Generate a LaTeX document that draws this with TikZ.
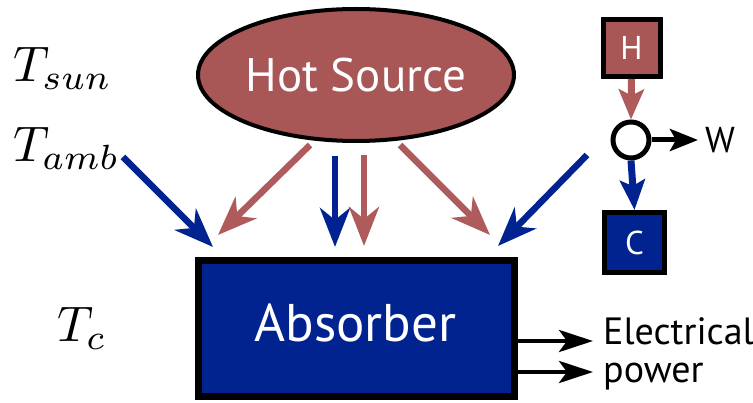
\documentclass[tikz,border=0pt]{standalone}
\usepackage{graphicx}
\usepackage{fontspec}
\newfontfamily\labelfont{PT Sans}
\usetikzlibrary{arrows.meta,shapes.geometric}
\definecolor{hotred}{RGB}{168,86,86}
\definecolor{arrowred}{RGB}{176,91,91}
\definecolor{absblue}{RGB}{0,35,143}
\definecolor{arrowblue}{RGB}{0,35,145}
\newcommand{\bigmath}[1]{\scalebox{5}{$#1$}}
\begin{document}
\begin{tikzpicture}[x=1pt,y=-1pt,
  bigred/.style={line width=6.5pt, draw=arrowred, -{Stealth[length=39pt,width=30pt,inset=12pt]}},
  bigblue/.style={line width=6.5pt, draw=arrowblue, -{Stealth[length=39pt,width=30pt,inset=12pt]}},
  smallred/.style={line width=7pt, draw=arrowred, -{Stealth[length=30pt,width=25pt,inset=6pt]}},
  smallblue/.style={line width=7pt, draw=arrowblue, -{Stealth[length=30pt,width=25pt,inset=6pt]}},
  blackarrow/.style={line width=4.5pt, draw=black, -{Stealth[length=34pt,width=22pt,inset=8pt]}},
  mathlabel/.style={anchor=base west, inner sep=0pt},
  sanslabel/.style={inner sep=0pt, font=\labelfont\fontsize{38}{44}\selectfont}
]
\useasboundingbox (0,0) rectangle (753,403);

% main shapes
\node[ellipse, draw, line width=4pt, fill=hotred, minimum width=316pt, minimum height=132pt,
      inner sep=0pt, text=white, font=\labelfont\fontsize{47}{50}\selectfont] (hot) at (356,75) {Hot Source};
\node[draw, line width=7pt, fill=absblue, minimum width=316pt, minimum height=136pt, inner sep=0pt] (abs) at (356.5,328.5) {};
\node[anchor=base, inner sep=0pt, text=white, font=\labelfont\fontsize{53}{58}\selectfont] (abstext) at (355.5,342) {Absorber};

% temperature labels
\node[mathlabel] (tsun) at (13,82) {\bigmath{T_{sun}}};
\node[mathlabel] (tamb) at (13,162) {\bigmath{T_{amb}}};
\node[mathlabel] (tc) at (57,342) {\bigmath{T_c}};

% radiation arrows
\coordinate (r1s) at (310,145); \coordinate (r1e) at (218,235);
\coordinate (b2s) at (335,156); \coordinate (b2e) at (335,247);
\coordinate (r2s) at (364,155); \coordinate (r2e) at (364,246);
\coordinate (r3s) at (400,145); \coordinate (r3e) at (490,235);
\coordinate (b1s) at (123,157); \coordinate (b1e) at (213,247);
\coordinate (b3s) at (587,155); \coordinate (b3e) at (498,246);
\draw[bigred] (r1s) -- (r1e);
\draw[bigblue] (b2s) -- (b2e);
\draw[bigred] (r2s) -- (r2e);
\draw[bigred] (r3s) -- (r3e);
\draw[bigblue] (b1s) -- (b1e);
\draw[bigblue] (b3s) -- (b3e);

% heat engine
\node[draw, line width=5pt, fill=hotred, minimum size=57pt, inner sep=0pt, text=white,
      font=\labelfont\fontsize{33}{38}\selectfont] (H) at (631.5,48) {H};
\node[draw, line width=5pt, fill=absblue, minimum size=60pt, inner sep=0pt, text=white,
      font=\labelfont\fontsize{33}{38}\selectfont] (C) at (634.5,242.5) {C};
\node[circle, draw, line width=5pt, fill=white, minimum size=36pt, inner sep=0pt] (eng) at (631,140) {};
\draw[smallred] (H.south) -- (eng.north);
\draw[smallblue] (eng.south) -- (C.north);
\coordinate (wtip) at (698,140);
\draw[line width=5pt, -{Stealth[length=28pt,width=22pt,inset=6pt]}] (eng.east) -- (wtip);
\node[anchor=base west, inner sep=0pt, font=\labelfont\fontsize{36}{40}\selectfont] (W) at (705,153) {W};

% electrical output
\coordinate (e1) at (593,341);
\coordinate (e2) at (593,372);
\draw[blackarrow] (abs.east |- e1) -- (e1);
\draw[blackarrow] (abs.east |- e2) -- (e2);
\node[sanslabel, anchor=base west] (elec1) at (603,345) {Electrical};
\node[sanslabel, anchor=base west] (elec2) at (603,383) {power};
\end{tikzpicture}
\end{document}
